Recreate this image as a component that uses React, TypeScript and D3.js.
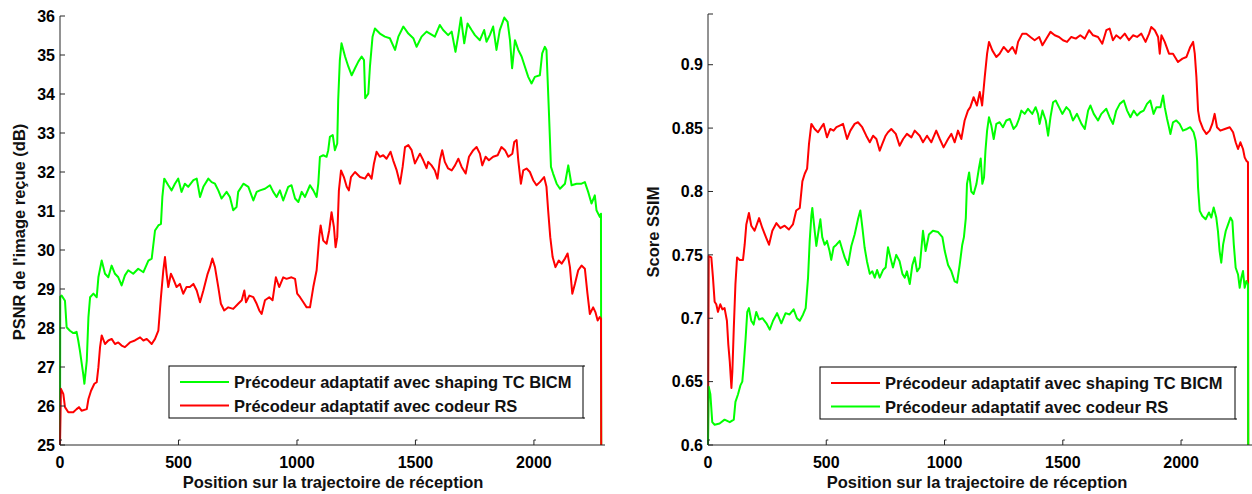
import React from "react";
import * as d3 from "d3";

type P = [number, number];

const xTicks = [0, 500, 1000, 1500, 2000];
const psnrTicks = [25, 26, 27, 28, 29, 30, 31, 32, 33, 34, 35, 36];
const ssimTicks = [0.6, 0.65, 0.7, 0.75, 0.8, 0.85, 0.9];
const ssimTickLabels = ["0.6", "0.65", "0.7", "0.75", "0.8", "0.85", "0.9"];

const seriesNames = [
  "Précodeur adaptatif avec shaping TC BICM",
  "Précodeur adaptatif avec codeur RS",
];

const psnrShaping: P[] = [[0,25],[1,28.8],[7,28.83],[21,28.7],[28,28.02],[42,27.93],[56,27.87],[70,27.9],[77,27.68],[84,27.42],[98,26.82],[103,26.57],[113,27.16],[120,28.28],[127,28.79],[141,28.88],[155,28.79],[162,29.3],[176,29.73],[190,29.39],[204,29.3],[218,29.6],[232,29.39],[246,29.3],[260,29.09],[274,29.35],[288,29.48],[309,29.39],[330,29.52],[352,29.43],[373,29.73],[387,29.78],[401,30.5],[415,30.63],[426,30.67],[432,31.36],[440,31.83],[457,31.66],[471,31.53],[485,31.7],[499,31.83],[513,31.49],[527,31.7],[541,31.62],[563,31.79],[577,31.83],[591,31.36],[605,31.62],[626,31.83],[640,31.74],[654,31.7],[668,31.53],[682,31.32],[703,31.49],[717,31.36],[731,31.02],[745,31.1],[752,31.49],[774,31.7],[795,31.62],[816,31.27],[830,31.49],[844,31.53],[865,31.57],[886,31.66],[900,31.49],[914,31.36],[928,31.53],[942,31.27],[963,31.62],[977,31.66],[992,31.32],[1006,31.23],[1020,31.49],[1034,31.36],[1055,31.66],[1069,31.53],[1083,31.36],[1090,31.7],[1097,32.39],[1111,32.43],[1125,32.39],[1132,32.56],[1139,32.9],[1151,32.95],[1160,32.56],[1170,32.73],[1174,33.84],[1181,34.87],[1188,35.3],[1203,34.96],[1217,34.7],[1231,34.48],[1245,34.66],[1259,34.83],[1273,34.96],[1283,34.87],[1288,33.89],[1301,34.01],[1308,34.7],[1319,35.47],[1329,35.68],[1350,35.55],[1371,35.47],[1392,35.43],[1414,35.13],[1428,35.47],[1449,35.73],[1470,35.55],[1491,35.43],[1505,35.21],[1526,35.47],[1547,35.6],[1561,35.55],[1582,35.47],[1603,35.77],[1617,35.64],[1638,35.51],[1653,35.6],[1669,35.08],[1681,35.51],[1692,35.96],[1706,35.3],[1720,35.81],[1737,35.64],[1751,35.51],[1772,35.38],[1790,35.64],[1800,35.34],[1814,35.51],[1828,35.73],[1842,35.13],[1856,35.64],[1875,35.96],[1889,35.85],[1899,35.38],[1908,34.66],[1920,35.38],[1934,35.13],[1948,34.96],[1962,34.7],[1976,34.44],[1990,34.27],[2004,34.44],[2025,34.48],[2035,35.04],[2046,35.21],[2053,35.13],[2063,33.59],[2072,32.13],[2081,31.96],[2096,31.7],[2110,31.57],[2131,31.7],[2145,32.17],[2159,31.66],[2180,31.7],[2201,31.7],[2215,31.74],[2229,31.49],[2243,31.19],[2257,31.4],[2264,31.02],[2278,30.85],[2283,30.93],[2284,25]];

const psnrRS: P[] = [[0,25],[4,26.44],[14,26.31],[21,25.97],[35,25.84],[56,25.84],[70,25.92],[80,25.97],[91,25.88],[113,25.92],[120,26.18],[131,26.39],[145,26.57],[155,26.61],[162,26.99],[169,27.51],[176,27.81],[190,27.59],[204,27.68],[218,27.72],[232,27.59],[246,27.63],[260,27.55],[274,27.51],[295,27.63],[316,27.68],[338,27.76],[352,27.68],[366,27.72],[387,27.59],[401,27.72],[415,27.93],[426,28.79],[436,29.48],[443,29.82],[450,29.39],[457,29.05],[468,29.39],[478,29.26],[492,29.05],[506,29.13],[520,28.88],[534,29.05],[548,29.05],[563,29.13],[577,28.96],[591,28.66],[605,28.96],[623,29.39],[633,29.56],[643,29.78],[654,29.56],[668,29.05],[679,28.62],[693,28.45],[710,28.53],[731,28.49],[752,28.62],[767,28.71],[778,28.96],[785,28.66],[799,28.83],[816,28.79],[830,28.62],[841,28.45],[851,28.36],[865,28.71],[883,28.79],[897,28.71],[911,29.3],[925,29.05],[942,29.3],[956,29.26],[977,29.3],[992,29.26],[1001,28.88],[1013,28.79],[1027,28.66],[1041,28.53],[1055,28.53],[1069,29.05],[1083,29.48],[1094,30.33],[1100,30.63],[1111,30.24],[1125,30.16],[1136,30.5],[1146,30.97],[1156,30.59],[1163,30.07],[1170,30.33],[1177,31.53],[1186,32.04],[1198,31.87],[1210,31.62],[1219,31.53],[1228,31.87],[1245,32.0],[1266,31.87],[1287,31.83],[1301,31.96],[1315,31.83],[1325,32.22],[1336,32.52],[1350,32.39],[1364,32.43],[1378,32.34],[1395,32.52],[1406,32.3],[1421,32.04],[1435,31.7],[1446,32.13],[1456,32.64],[1470,32.69],[1484,32.56],[1498,32.22],[1519,32.47],[1533,32.3],[1547,32.1],[1554,32.26],[1568,32.17],[1582,32.04],[1593,31.83],[1603,32.3],[1613,32.56],[1624,32.26],[1638,32.09],[1653,32.04],[1667,32.17],[1681,32.34],[1695,32.13],[1712,31.96],[1726,32.39],[1744,32.56],[1758,32.64],[1772,32.47],[1782,32.17],[1796,32.39],[1810,32.3],[1828,32.39],[1847,32.43],[1863,32.64],[1878,32.56],[1892,32.39],[1909,32.47],[1917,32.77],[1927,32.82],[1934,32.3],[1945,31.7],[1955,32.04],[1969,32.09],[1983,32.0],[1997,31.79],[2011,31.66],[2025,31.74],[2043,31.87],[2053,31.62],[2060,31.02],[2069,30.33],[2079,29.82],[2091,29.56],[2105,29.73],[2117,29.65],[2131,29.78],[2142,29.91],[2152,29.56],[2162,28.88],[2173,29.13],[2187,29.48],[2201,29.6],[2215,29.52],[2226,28.88],[2236,28.36],[2250,28.53],[2260,28.4],[2269,28.19],[2278,28.28],[2283,28.24],[2284,25]];

const ssimShaping: P[] = [[0,0.6],[3,0.749],[14,0.748],[21,0.732],[28,0.713],[35,0.711],[42,0.705],[52,0.711],[61,0.707],[70,0.708],[80,0.698],[86,0.679],[92,0.666],[99,0.645],[103,0.658],[109,0.692],[116,0.727],[123,0.748],[134,0.746],[148,0.746],[155,0.758],[162,0.774],[173,0.783],[183,0.773],[197,0.769],[216,0.779],[230,0.771],[247,0.763],[258,0.758],[272,0.769],[289,0.775],[306,0.771],[324,0.773],[342,0.77],[359,0.774],[373,0.785],[388,0.787],[399,0.808],[409,0.814],[419,0.818],[427,0.8375],[437,0.8533],[451,0.8493],[465,0.8467],[479,0.8507],[489,0.8533],[503,0.8427],[517,0.8493],[531,0.848],[543,0.8507],[557,0.852],[571,0.8533],[588,0.8414],[602,0.848],[620,0.8533],[634,0.8546],[652,0.8507],[669,0.844],[684,0.8388],[698,0.844],[712,0.8414],[726,0.8322],[737,0.8375],[751,0.844],[761,0.8467],[775,0.8493],[794,0.8454],[810,0.8361],[825,0.8414],[841,0.8454],[860,0.8427],[874,0.848],[895,0.844],[909,0.8388],[926,0.844],[944,0.8388],[965,0.848],[980,0.8414],[996,0.8348],[1015,0.8414],[1029,0.8454],[1043,0.8388],[1057,0.848],[1071,0.8414],[1085,0.856],[1099,0.8638],[1109,0.8665],[1123,0.8744],[1137,0.8678],[1149,0.8784],[1159,0.8678],[1170,0.8902],[1180,0.9087],[1188,0.918],[1202,0.9113],[1219,0.9061],[1233,0.9087],[1250,0.914],[1269,0.91],[1287,0.914],[1301,0.9087],[1311,0.918],[1329,0.9245],[1346,0.9245],[1363,0.9219],[1381,0.9193],[1400,0.9219],[1414,0.9153],[1431,0.9206],[1448,0.9259],[1466,0.9232],[1484,0.9219],[1501,0.9193],[1518,0.918],[1536,0.9219],[1555,0.9206],[1574,0.9232],[1593,0.9206],[1611,0.9272],[1628,0.9232],[1649,0.9219],[1667,0.9166],[1684,0.9272],[1698,0.9285],[1712,0.9193],[1726,0.9232],[1743,0.9206],[1762,0.9245],[1780,0.9193],[1797,0.9232],[1814,0.9219],[1832,0.9245],[1850,0.918],[1865,0.9245],[1874,0.9298],[1889,0.9272],[1903,0.9219],[1910,0.9087],[1917,0.9232],[1931,0.918],[1949,0.9087],[1966,0.9087],[1987,0.9021],[2006,0.9048],[2023,0.9061],[2039,0.914],[2051,0.918],[2058,0.9087],[2065,0.8902],[2072,0.8638],[2079,0.856],[2093,0.8493],[2107,0.8454],[2121,0.848],[2132,0.8533],[2142,0.8612],[2152,0.8507],[2166,0.848],[2185,0.8493],[2206,0.8507],[2220,0.8467],[2231,0.8388],[2241,0.8335],[2251,0.8388],[2262,0.8335],[2269,0.8269],[2276,0.8243],[2283,0.823],[2284,0.6]];

const ssimRS: P[] = [[0,0.6],[3,0.646],[10,0.64],[18,0.618],[28,0.616],[49,0.617],[70,0.62],[92,0.618],[109,0.62],[116,0.634],[127,0.64],[137,0.647],[145,0.65],[151,0.663],[159,0.684],[166,0.705],[173,0.708],[183,0.698],[193,0.695],[204,0.705],[216,0.699],[230,0.7],[247,0.696],[261,0.691],[275,0.698],[292,0.704],[310,0.696],[328,0.704],[345,0.703],[362,0.707],[376,0.7],[388,0.698],[402,0.703],[413,0.708],[423,0.732],[430,0.761],[437,0.781],[441,0.787],[451,0.769],[458,0.757],[469,0.771],[475,0.778],[483,0.764],[493,0.758],[503,0.761],[514,0.753],[521,0.746],[531,0.756],[543,0.758],[557,0.761],[568,0.754],[578,0.748],[592,0.742],[606,0.757],[620,0.766],[634,0.778],[644,0.785],[653,0.771],[662,0.756],[672,0.745],[684,0.735],[695,0.737],[705,0.732],[715,0.738],[726,0.732],[740,0.738],[751,0.74],[761,0.756],[771,0.748],[782,0.74],[796,0.75],[810,0.745],[822,0.735],[832,0.732],[841,0.737],[853,0.727],[864,0.742],[874,0.748],[884,0.737],[895,0.74],[909,0.769],[920,0.753],[934,0.766],[951,0.769],[973,0.768],[991,0.764],[1001,0.753],[1015,0.742],[1029,0.737],[1043,0.729],[1053,0.728],[1064,0.742],[1075,0.758],[1082,0.764],[1090,0.779],[1095,0.806],[1104,0.815],[1113,0.8],[1123,0.798],[1135,0.806],[1146,0.819],[1153,0.826],[1160,0.806],[1167,0.811],[1173,0.832],[1180,0.848],[1188,0.8586],[1198,0.852],[1208,0.8414],[1219,0.8533],[1233,0.8546],[1247,0.8507],[1261,0.856],[1276,0.8572],[1292,0.8493],[1304,0.852],[1315,0.8572],[1325,0.8638],[1339,0.8612],[1353,0.8652],[1371,0.8612],[1385,0.8665],[1395,0.8612],[1402,0.8533],[1414,0.8638],[1428,0.856],[1438,0.844],[1448,0.8586],[1459,0.8704],[1470,0.8718],[1484,0.8665],[1498,0.8612],[1515,0.8665],[1529,0.8638],[1543,0.856],[1560,0.8612],[1579,0.8533],[1593,0.8493],[1607,0.8638],[1617,0.8678],[1631,0.8612],[1649,0.856],[1663,0.8612],[1684,0.8652],[1698,0.8586],[1712,0.8533],[1726,0.8638],[1741,0.8691],[1758,0.8718],[1772,0.8638],[1786,0.8586],[1800,0.8638],[1814,0.8599],[1828,0.8625],[1842,0.8638],[1856,0.8691],[1870,0.8718],[1884,0.8612],[1896,0.8665],[1913,0.8665],[1924,0.8757],[1931,0.8665],[1941,0.8572],[1949,0.8507],[1955,0.8454],[1966,0.8546],[1980,0.856],[1994,0.8533],[2008,0.848],[2025,0.8493],[2039,0.8507],[2053,0.8467],[2062,0.84],[2068,0.8243],[2072,0.803],[2079,0.7847],[2090,0.7807],[2104,0.7781],[2118,0.7834],[2128,0.7794],[2138,0.7873],[2149,0.7794],[2156,0.7688],[2163,0.753],[2170,0.7438],[2178,0.7583],[2189,0.7688],[2199,0.7741],[2209,0.7794],[2217,0.7768],[2223,0.7583],[2231,0.7398],[2241,0.7345],[2248,0.724],[2255,0.7319],[2262,0.7372],[2269,0.724],[2276,0.7293],[2283,0.7266],[2284,0.6]];

const GREEN = "#00ff00";
const RED = "#ff0000";
const AXIS = "#262626";
const FONT = "'Liberation Sans', Arial, Helvetica, sans-serif";

interface PanelProps {
  x0: number;
  x1: number;
  yTop: number;
  yBottom: number;
  yDomain: [number, number];
  yTicks: number[];
  yLabels: string[];
  yTitle: string;
  yTitleX: number;
  xTitleX: number;
  series: { data: P[]; color: string }[];
  legend: { x: number; y: number; w: number; h: number; colors: string[] };
  topTick?: boolean;
}

function Panel(p: PanelProps) {
  const x = d3.scaleLinear().domain([0, 2300]).range([p.x0, p.x1]);
  const y = d3.scaleLinear().domain(p.yDomain).range([p.yBottom, p.yTop]);
  const line = d3
    .line<P>()
    .x((d) => x(d[0]))
    .y((d) => y(d[1]));
  const yb = p.yBottom;
  const L = p.legend;
  return (
    <g>
      {p.series.map((s, i) => (
        <path
          key={i}
          d={line(s.data) || ""}
          fill="none"
          stroke={s.color}
          strokeWidth={2}
          strokeLinejoin="round"
        />
      ))}
      <line x1={p.x0} x2={p.x1} y1={yb} y2={yb} stroke={AXIS} strokeWidth={1} />
      <line x1={p.x0} x2={p.x0} y1={yb} y2={p.yTop} stroke={AXIS} strokeWidth={1} />
      {p.yTicks.map((t, i) => (
        <g key={"yt" + i}>
          <line x1={p.x0} x2={p.x0 + 5} y1={y(t)} y2={y(t)} stroke={AXIS} strokeWidth={1} />
          <text
            x={p.x0 - 5}
            y={y(t)}
            dy="0.36em"
            textAnchor="end"
            fontFamily={FONT}
            fontWeight="bold"
            fontSize={16}
            fill="#000"
          >
            {p.yLabels[i]}
          </text>
        </g>
      ))}
      {p.topTick && (
        <line x1={p.x0} x2={p.x0 + 5} y1={p.yTop} y2={p.yTop} stroke={AXIS} strokeWidth={1} />
      )}
      {xTicks.map((t, i) => (
        <g key={"xt" + i}>
          <path d={`M${x(t)},${yb} V${yb - 5} h2`} fill="none" stroke={AXIS} strokeWidth={1} />
          <text
            x={x(t)}
            y={468}
            textAnchor="middle"
            fontFamily={FONT}
            fontWeight="bold"
            fontSize={16}
            fill="#000"
          >
            {t}
          </text>
        </g>
      ))}
      <text
        x={p.xTitleX}
        y={488}
        textAnchor="middle"
        fontFamily={FONT}
        fontWeight="bold"
        fontSize={16.5}
        fill="#111"
      >
        Position sur la trajectoire de réception
      </text>
      <text
        transform={`translate(${p.yTitleX},232) rotate(-90)`}
        textAnchor="middle"
        fontFamily={FONT}
        fontWeight="bold"
        fontSize={16.5}
        fill="#111"
      >
        {p.yTitle}
      </text>
      <g>
        <rect x={L.x} y={L.y} width={L.w} height={L.h} fill="#fff" stroke="#000" strokeWidth={1} />
        <line x1={L.x + L.w} x2={L.x + L.w + 2} y1={L.y} y2={L.y} stroke="#000" />
        <line x1={L.x + L.w} x2={L.x + L.w + 2} y1={L.y + L.h} y2={L.y + L.h} stroke="#000" />
        {seriesNames.map((n, i) => {
          const cy = L.y + 16 + i * 23.5;
          return (
            <g key={"lg" + i}>
              <line
                x1={L.x + 11}
                x2={L.x + 60}
                y1={cy}
                y2={cy}
                stroke={L.colors[i]}
                strokeWidth={2}
              />
              <text
                x={L.x + 65}
                y={cy + 6}
                fontFamily={FONT}
                fontWeight="bold"
                fontSize={16.5}
                fill="#111"
              >
                {n}
              </text>
            </g>
          );
        })}
      </g>
    </g>
  );
}

export default function App() {
  return (
    <svg
      width={1252}
      height={494}
      style={{ position: "absolute", left: 0, top: 0, background: "#fff" }}
    >
      <rect x={0} y={0} width={1252} height={494} fill="#fff" />
      <Panel
        x0={60}
        x1={605}
        yTop={16}
        yBottom={445}
        yDomain={[25, 36]}
        yTicks={psnrTicks}
        yLabels={psnrTicks.map(String)}
        yTitle="PSNR de l'image reçue (dB)"
        yTitleX={25}
        xTitleX={333}
        series={[
          { data: psnrShaping, color: GREEN },
          { data: psnrRS, color: RED },
        ]}
        legend={{ x: 169, y: 366, w: 414, h: 52, colors: [GREEN, RED] }}
      />
      <Panel
        x0={708}
        x1={1252}
        yTop={14}
        yBottom={445}
        yDomain={[0.6, 0.94]}
        yTicks={ssimTicks}
        yLabels={ssimTickLabels}
        yTitle="Score SSIM"
        yTitleX={659}
        xTitleX={977}
        series={[
          { data: ssimShaping, color: RED },
          { data: ssimRS, color: GREEN },
        ]}
        legend={{ x: 820, y: 367, w: 415, h: 52, colors: [RED, GREEN] }}
        topTick
      />
    </svg>
  );
}
